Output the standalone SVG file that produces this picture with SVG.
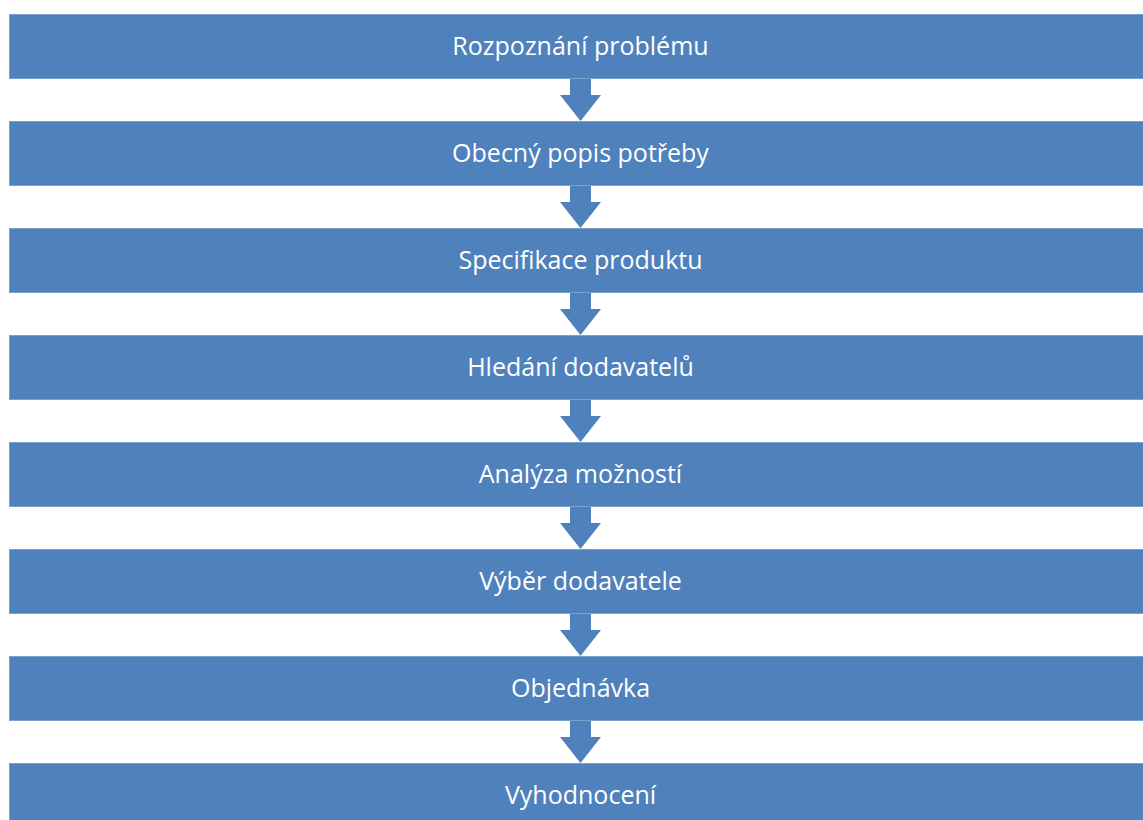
<svg xmlns="http://www.w3.org/2000/svg" width="1143" height="820" viewBox="0 0 1143 820">
  <style>
    .box { fill: #4f81bd; stroke: #7aa0d0; stroke-width: 1; }
    .arrow { fill: #4f81bd; }
    .label { fill: #ffffff; font-family: "Open Sans", "Liberation Sans", sans-serif; font-size: 25px; text-anchor: middle; }
  </style>
  <defs>
    <!-- block down-arrow between steps -->
    <path id="down" d="M570,0 H591 V18 H601 L580.5,44 L560,18 H570 Z"/>
  </defs>
  <rect width="1143" height="820" fill="#ffffff"/>
  <g id="connectors">
    <use href="#down" class="arrow" y="77"/>
    <use href="#down" class="arrow" y="184"/>
    <use href="#down" class="arrow" y="291"/>
    <use href="#down" class="arrow" y="398"/>
    <use href="#down" class="arrow" y="505"/>
    <use href="#down" class="arrow" y="612"/>
    <use href="#down" class="arrow" y="719"/>
  </g>
  <g id="step1"><rect class="box" x="9.5" y="14.5" width="1140" height="64"/><text class="label" x="580.5" y="55">Rozpoznání problému</text></g>
  <g id="step2"><rect class="box" x="9.5" y="121.5" width="1140" height="64"/><text class="label" x="580.5" y="162">Obecný popis potřeby</text></g>
  <g id="step3"><rect class="box" x="9.5" y="228.5" width="1140" height="64"/><text class="label" x="580.5" y="269">Specifikace produktu</text></g>
  <g id="step4"><rect class="box" x="9.5" y="335.5" width="1140" height="64"/><text class="label" x="580.5" y="376">Hledání dodavatelů</text></g>
  <g id="step5"><rect class="box" x="9.5" y="442.5" width="1140" height="64"/><text class="label" x="580.5" y="483">Analýza možností</text></g>
  <g id="step6"><rect class="box" x="9.5" y="549.5" width="1140" height="64"/><text class="label" x="580.5" y="590">Výběr dodavatele</text></g>
  <g id="step7"><rect class="box" x="9.5" y="656.5" width="1140" height="64"/><text class="label" x="580.5" y="697">Objednávka</text></g>
  <g id="step8"><rect class="box" x="9.5" y="763.5" width="1140" height="64"/><text class="label" x="580.5" y="804">Vyhodnocení</text></g>
</svg>
